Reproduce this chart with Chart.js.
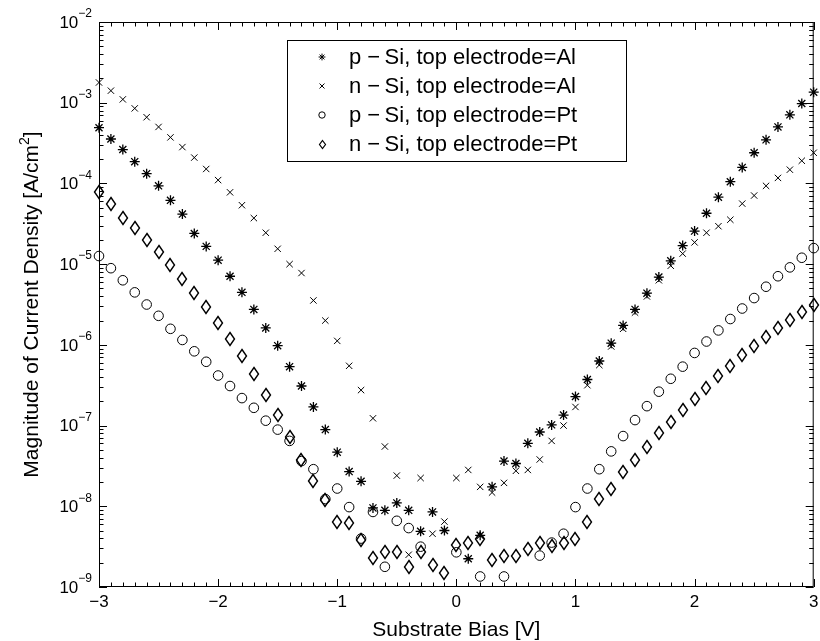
<!DOCTYPE html>
<html>
<head>
<meta charset="utf-8">
<script src="https://cdn.jsdelivr.net/npm/chart.js@4.4.1/dist/chart.umd.min.js"></script>
<style>
  html, body { margin: 0; padding: 0; background: #fff; }
  #wrap { width: 820px; height: 641px; }
</style>
</head>
<body>
<div id="wrap"><canvas id="ivChart" width="820" height="641"></canvas></div>
<script>
// substrate bias [V]
const biasV = [
  -3.0, -2.9, -2.8, -2.7, -2.6, -2.5, -2.4, -2.3, -2.2, -2.1,
  -2.0, -1.9, -1.8, -1.7, -1.6, -1.5, -1.4, -1.3, -1.2, -1.1,
  -1.0, -0.9, -0.8, -0.7, -0.6, -0.5, -0.4, -0.3, -0.2, -0.1,
  0.0,
  0.1, 0.2, 0.3, 0.4, 0.5, 0.6, 0.7, 0.8, 0.9, 1.0,
  1.1, 1.2, 1.3, 1.4, 1.5, 1.6, 1.7, 1.8, 1.9, 2.0,
  2.1, 2.2, 2.3, 2.4, 2.5, 2.6, 2.7, 2.8, 2.9, 3.0
];

// |J| in A/cm^2, null = not visible on the plot
const pSiAl = [
  4.9e-4, 3.55e-4, 2.63e-4, 1.86e-4, 1.32e-4, 9.33e-5, 6.17e-5, 4.17e-5, 2.40e-5, 1.66e-5,
  1.12e-5, 7.08e-6, 4.47e-6, 2.75e-6, 1.62e-6, 9.77e-7, 5.37e-7, 3.09e-7, 1.70e-7, 8.91e-8,
  4.68e-8, 2.69e-8, 2.04e-8, 9.55e-9, 8.91e-9, 1.10e-8, 8.91e-9, 4.90e-9, 8.51e-9, 5.01e-9,
  null,
  2.24e-9, 4.37e-9, 1.74e-8, 3.63e-8, 3.39e-8, 6.03e-8, 8.32e-8, 1.02e-7, 1.35e-7, 2.29e-7,
  3.72e-7, 6.31e-7, 1.05e-6, 1.74e-6, 2.75e-6, 4.37e-6, 6.92e-6, 1.10e-5, 1.70e-5, 2.57e-5,
  4.27e-5, 6.76e-5, 1.05e-4, 1.58e-4, 2.40e-4, 3.47e-4, 5.01e-4, 7.08e-4, 9.77e-4, 1.35e-3
];
const nSiAl = [
  1.78e-3, 1.41e-3, 1.10e-3, 8.51e-4, 6.61e-4, 5.01e-4, 3.72e-4, 2.82e-4, 2.09e-4, 1.51e-4,
  1.10e-4, 7.76e-5, 5.37e-5, 3.72e-5, 2.45e-5, 1.55e-5, 1.00e-5, 7.76e-6, 3.55e-6, 2.00e-6,
  1.12e-6, 5.50e-7, 2.75e-7, 1.23e-7, 5.50e-8, 2.40e-8, 2.51e-9, 2.24e-8, 4.57e-9, 6.46e-9,
  2.24e-8,
  2.82e-8, 1.74e-8, 1.48e-8, 1.95e-8, 2.75e-8, 2.82e-8, 3.80e-8, 6.46e-8, 1.00e-7, 1.70e-7,
  3.16e-7, 5.62e-7, 9.55e-7, 1.58e-6, 2.51e-6, 3.98e-6, 6.31e-6, 9.55e-6, 1.35e-5, 1.86e-5,
  2.45e-5, 2.95e-5, 3.55e-5, 5.62e-5, 7.08e-5, 9.33e-5, 1.17e-4, 1.48e-4, 1.91e-4, 2.40e-4
];
const pSiPt = [
  1.26e-5, 8.91e-6, 6.31e-6, 4.47e-6, 3.16e-6, 2.29e-6, 1.58e-6, 1.15e-6, 8.32e-7, 6.17e-7,
  4.17e-7, 3.09e-7, 2.19e-7, 1.66e-7, 1.15e-7, 8.91e-8, 6.46e-8, 3.63e-8, 2.88e-8, 1.23e-8,
  1.66e-8, 9.77e-9, 3.98e-9, 8.51e-9, 1.78e-9, 6.61e-9, 5.37e-9, 3.16e-9, null, null,
  2.69e-9,
  null, 1.35e-9, null, 1.35e-9, null, null, 2.45e-9, 3.55e-9, 4.57e-9, 9.77e-9,
  1.66e-8, 2.88e-8, 4.79e-8, 7.41e-8, 1.17e-7, 1.74e-7, 2.63e-7, 3.80e-7, 5.37e-7, 7.94e-7,
  1.10e-6, 1.51e-6, 2.09e-6, 2.82e-6, 3.80e-6, 5.25e-6, 7.08e-6, 9.12e-6, 1.20e-5, 1.58e-5
];
const nSiPt = [
  7.76e-5, 5.50e-5, 3.72e-5, 2.82e-5, 2.00e-5, 1.41e-5, 9.77e-6, 6.61e-6, 4.37e-6, 2.95e-6,
  1.86e-6, 1.17e-6, 7.24e-7, 4.37e-7, 2.40e-7, 1.35e-7, 7.24e-8, 3.72e-8, 2.04e-8, 1.20e-8,
  6.31e-9, 6.17e-9, 3.80e-9, 2.29e-9, 2.75e-9, 2.75e-9, 1.78e-9, 2.75e-9, 1.86e-9, 1.51e-9,
  3.31e-9,
  3.55e-9, 3.98e-9, 2.14e-9, 2.45e-9, 2.45e-9, 2.95e-9, 3.55e-9, 3.24e-9, 3.55e-9, 3.98e-9,
  6.31e-9, 1.23e-8, 1.62e-8, 2.69e-8, 3.72e-8, 5.50e-8, 8.13e-8, 1.10e-7, 1.55e-7, 2.14e-7,
  2.95e-7, 4.07e-7, 5.50e-7, 7.41e-7, 9.77e-7, 1.26e-6, 1.62e-6, 2.04e-6, 2.57e-6, 3.09e-6
];

const seriesNames = [
  "p \u2212\u2009Si, top electrode=Al",
  "n \u2212\u2009Si, top electrode=Al",
  "p \u2212\u2009Si, top electrode=Pt",
  "n \u2212\u2009Si, top electrode=Pt"
];
const xTicks = [-3, -2, -1, 0, 1, 2, 3];
const yTickExp = [-9, -8, -7, -6, -5, -4, -3, -2];

const FONT = '"Liberation Sans", Arial, Helvetica, sans-serif';

// MATLAB-like diamond (a bit taller than wide)
function diamondMarker(w, h, lw) {
    const c = document.createElement("canvas");
    c.width = w + 3;
    c.height = h + 3;
    const g = c.getContext("2d");
    g.strokeStyle = "#000";
    g.lineWidth = lw;
    g.beginPath();
    g.moveTo(c.width / 2, 1.5);
    g.lineTo(c.width - 1.5, c.height / 2);
    g.lineTo(c.width / 2, c.height - 1.5);
    g.lineTo(1.5, c.height / 2);
    g.closePath();
    g.stroke();
    return c;
}

function points(values) {
    return biasV.map((v, i) => ({ x: v, y: values[i] }));
}

const diamondBig = diamondMarker(9, 13, 1.4);
const diamondSmall = diamondMarker(6, 8, 1.2);

const markers = [
    { pointStyle: "star", radius: 5, borderWidth: 1.3, legendRadius: 3.4 },
    { pointStyle: "crossRot", radius: 4.5, borderWidth: 1, legendRadius: 3.5 },
    { pointStyle: "circle", radius: 4.8, borderWidth: 1, legendRadius: 3.2 },
    { pointStyle: diamondBig, radius: 5, borderWidth: 1, legendStyle: diamondSmall }
];

const matlabAxes = {
    id: "matlabAxes",
    beforeDatasetsDraw(chart) {
        chart.ctx.imageSmoothingEnabled = false;
    },
    afterDatasetsDraw(chart) {
        const { ctx, chartArea: a, scales: { x, y } } = chart;
        ctx.save();
        ctx.strokeStyle = "#000";
        ctx.fillStyle = "#000";
        ctx.lineWidth = 1;

        // ticks on x (inward, bottom and top)
        ctx.beginPath();
        for (let k = -30; k <= 30; k++) {
            const px = Math.round(x.getPixelForValue(k / 10)) + 0.5;
            const len = k % 10 === 0 ? 8 : 4.5;
            ctx.moveTo(px, a.bottom);
            ctx.lineTo(px, a.bottom - len);
            ctx.moveTo(px, a.top);
            ctx.lineTo(px, a.top + len);
        }
        // ticks on y (log, inward, left and right)
        for (let e = -9; e <= -2; e++) {
            for (let m = 1; m <= 9; m++) {
                if (e === -2 && m > 1) break;
                const py = Math.round(y.getPixelForValue(m * Math.pow(10, e))) + 0.5;
                const len = m === 1 ? 8 : 4.5;
                ctx.moveTo(a.left, py);
                ctx.lineTo(a.left + len, py);
                ctx.moveTo(a.right, py);
                ctx.lineTo(a.right - len, py);
            }
        }
        ctx.stroke();

        // box
        ctx.strokeRect(a.left + 0.5, a.top + 0.5, a.right - a.left - 1, a.bottom - a.top - 1);

        // x tick labels
        ctx.font = "17px " + FONT;
        ctx.textAlign = "center";
        ctx.textBaseline = "top";
        xTicks.forEach(v => {
            const label = v < 0 ? "\u2212" + Math.abs(v) : String(v);
            ctx.fillText(label, x.getPixelForValue(v), a.bottom + 7);
        });

        // y tick labels 10^n
        yTickExp.forEach(e => {
            const py = y.getPixelForValue(Math.pow(10, e));
            ctx.font = "17px " + FONT;
            const w1 = ctx.measureText("10").width;
            ctx.font = "12px " + FONT;
            const sup = "\u2212" + Math.abs(e);
            const w2 = ctx.measureText(sup).width;
            const right = a.left - 7;
            ctx.textAlign = "left";
            ctx.textBaseline = "middle";
            ctx.font = "17px " + FONT;
            ctx.fillText("10", right - w2 - w1, py + 1);
            ctx.font = "12px " + FONT;
            ctx.fillText(sup, right - w2, py - 8);
        });

        // x title
        ctx.font = "21px " + FONT;
        ctx.textAlign = "center";
        ctx.textBaseline = "alphabetic";
        ctx.fillText("Substrate Bias [V]", (a.left + a.right) / 2, a.bottom + 49);

        // y title (rotated, with superscript 2)
        ctx.save();
        ctx.translate(38, (a.top + a.bottom) / 2);
        ctx.rotate(-Math.PI / 2);
        const t1 = "Magnitude of Current Density [A/cm";
        ctx.font = "21px " + FONT;
        const tw1 = ctx.measureText(t1).width;
        const tw3 = ctx.measureText("]").width;
        ctx.font = "14px " + FONT;
        const tw2 = ctx.measureText("2").width;
        const sx = -(tw1 + tw2 + tw3) / 2;
        ctx.textAlign = "left";
        ctx.font = "21px " + FONT;
        ctx.fillText(t1, sx, 0);
        ctx.font = "14px " + FONT;
        ctx.fillText("2", sx + tw1, -9);
        ctx.font = "21px " + FONT;
        ctx.fillText("]", sx + tw1 + tw2, 0);
        ctx.restore();

        // legend
        const box = { left: 287, top: 40, right: 626, bottom: 161 };
        ctx.fillStyle = "#fff";
        ctx.fillRect(box.left, box.top, box.right - box.left, box.bottom - box.top);
        ctx.strokeStyle = "#000";
        ctx.lineWidth = 1;
        ctx.strokeRect(box.left + 0.5, box.top + 0.5, box.right - box.left, box.bottom - box.top);
        const rowY = [57, 86, 115, 144];
        seriesNames.forEach((name, i) => {
            const mk = markers[i];
            ctx.strokeStyle = "#000";
            ctx.fillStyle = "rgba(0,0,0,0)";
            ctx.lineWidth = 1;
            Chart.helpers.drawPoint(ctx, {
                pointStyle: mk.legendStyle || mk.pointStyle,
                radius: mk.legendRadius || 3,
                rotation: 0,
                borderWidth: 1
            }, 322, rowY[i]);
            ctx.fillStyle = "#000";
            ctx.font = "22px " + FONT;
            ctx.textAlign = "left";
            ctx.textBaseline = "middle";
            ctx.fillText(name, 349, rowY[i] + 1);
        });

        ctx.restore();
        ctx.imageSmoothingEnabled = true;
    }
};

const seriesData = [pSiAl, nSiAl, pSiPt, nSiPt];

new Chart(document.getElementById("ivChart"), {
    type: "scatter",
    data: {
        datasets: seriesData.map((vals, i) => ({
            label: seriesNames[i],
            data: points(vals),
            pointStyle: markers[i].pointStyle,
            pointRadius: markers[i].radius,
            pointBorderWidth: markers[i].borderWidth,
            pointBorderColor: "#000",
            pointBackgroundColor: "rgba(0,0,0,0)",
            showLine: false,
            clip: false
        }))
    },
    options: {
        responsive: false,
        animation: false,
        devicePixelRatio: 1,
        layout: { padding: { left: 99, right: 5, top: 22, bottom: 54 } },
        plugins: {
            legend: { display: false },
            tooltip: { enabled: false }
        },
        scales: {
            x: { type: "linear", min: -3, max: 3, display: false },
            y: { type: "logarithmic", min: 1e-9, max: 1e-2, display: false }
        }
    },
    plugins: [matlabAxes]
});
</script>
</body>
</html>
